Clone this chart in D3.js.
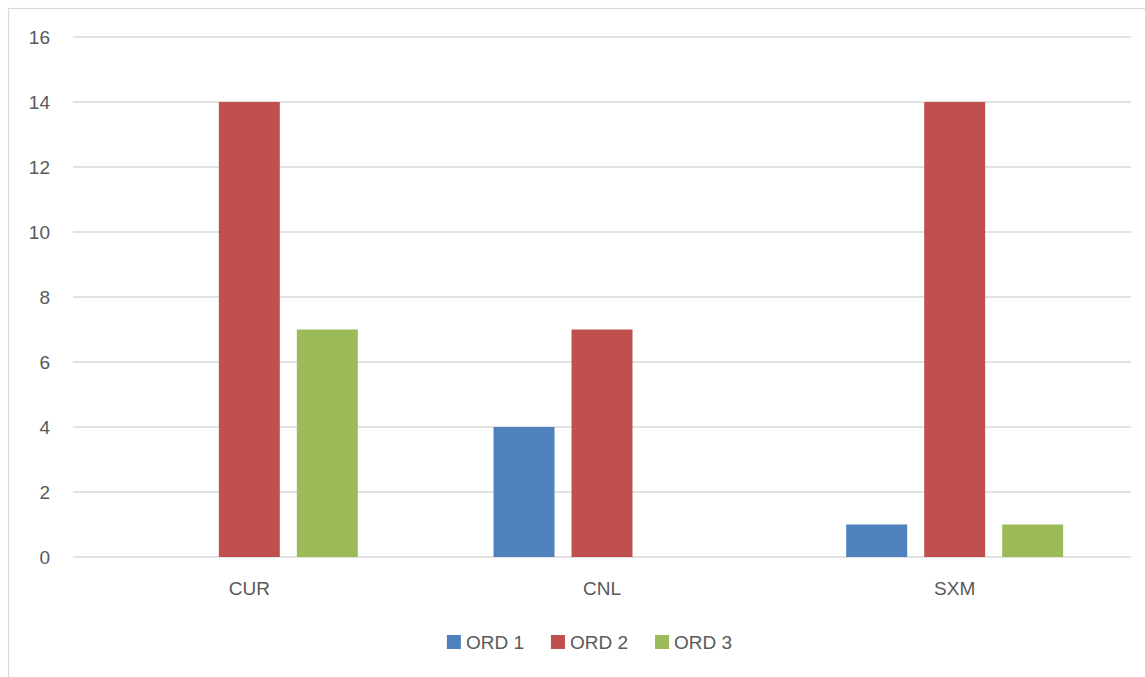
<!DOCTYPE html>
<html>
<head>
<meta charset="utf-8">
<script src="https://cdn.jsdelivr.net/npm/d3@7"></script>
<style>
  body { margin: 0; background: #fff; }
  text { font-family: "Liberation Sans", Arial, sans-serif; fill: #595959; }
</style>
</head>
<body>
<script>
const categories = ['CUR', 'CNL', 'SXM'];
const series = ['ORD 1', 'ORD 2', 'ORD 3'];
const ord1 = [0, 4, 1];
const ord2 = [14, 7, 14];
const ord3 = [7, 0, 1];
const yTicks = [0, 2, 4, 6, 8, 10, 12, 14, 16];
const colors = ['#4f81bd', '#c0504d', '#9bbb59'];

const values = [ord1, ord2, ord3];

const width = 1145;
const height = 677;
const margin = { top: 37, right: 14, bottom: 120, left: 73 };

const svg = d3.create('svg')
  .attr('width', width)
  .attr('height', height);

// chart frame
svg.append('rect')
  .attr('x', 8.5).attr('y', 8.5)
  .attr('width', width + 10).attr('height', height + 10)
  .attr('fill', 'none')
  .attr('stroke', '#d9d9d9')
  .attr('stroke-width', 1.2);

const x0 = d3.scaleBand()
  .domain(categories)
  .range([margin.left, width - margin.right])
  .padding(0);

const x1 = d3.scaleBand()
  .domain(series)
  .range([0, x0.bandwidth()])
  .paddingInner(17 / 78)
  .paddingOuter(0.87);

const y = d3.scaleLinear()
  .domain([0, 16])
  .range([height - margin.bottom, margin.top]);

// gridlines
svg.append('g')
  .selectAll('line')
  .data(yTicks)
  .join('line')
  .attr('x1', margin.left)
  .attr('x2', width - margin.right)
  .attr('y1', d => y(d))
  .attr('y2', d => y(d))
  .attr('stroke', '#d9d9d9')
  .attr('stroke-width', 1.5);

// y labels
svg.append('g')
  .selectAll('text')
  .data(yTicks)
  .join('text')
  .attr('x', 50)
  .attr('y', d => y(d))
  .attr('dy', '0.36em')
  .attr('text-anchor', 'end')
  .attr('font-size', 19)
  .text(d => d);

// bars
const groups = svg.append('g')
  .selectAll('g')
  .data(categories)
  .join('g')
  .attr('transform', c => `translate(${x0(c)},0)`);

groups.selectAll('rect')
  .data((c, ci) => series.map((s, si) => ({ s, si, v: values[si][ci] })))
  .join('rect')
  .attr('x', d => x1(d.s))
  .attr('width', x1.bandwidth())
  .attr('y', d => y(d.v))
  .attr('height', d => y(0) - y(d.v))
  .attr('fill', d => colors[d.si]);

// category labels
svg.append('g')
  .selectAll('text')
  .data(categories)
  .join('text')
  .attr('x', c => x0(c) + x0.bandwidth() / 2)
  .attr('y', 595)
  .attr('text-anchor', 'middle')
  .attr('font-size', 19)
  .text(c => c);

// legend
const legend = svg.append('g');
const items = legend.selectAll('g')
  .data(series)
  .join('g');
items.append('rect')
  .attr('width', 14).attr('height', 14)
  .attr('y', 635)
  .attr('fill', (d, i) => colors[i]);
items.append('text')
  .attr('x', 19)
  .attr('y', 642)
  .attr('dy', '0.36em')
  .attr('font-size', 19)
  .text(d => d);

document.body.appendChild(svg.node());

let offs = [];
let cur = 0;
items.each(function () {
  offs.push(cur);
  const w = 19 + d3.select(this).select('text').node().getComputedTextLength();
  cur += w + 27;
});
const total = cur - 27;
const start = 589.5 - total / 2;
items.attr('transform', (d, i) => `translate(${start + offs[i]},0)`);
</script>
</body>
</html>
